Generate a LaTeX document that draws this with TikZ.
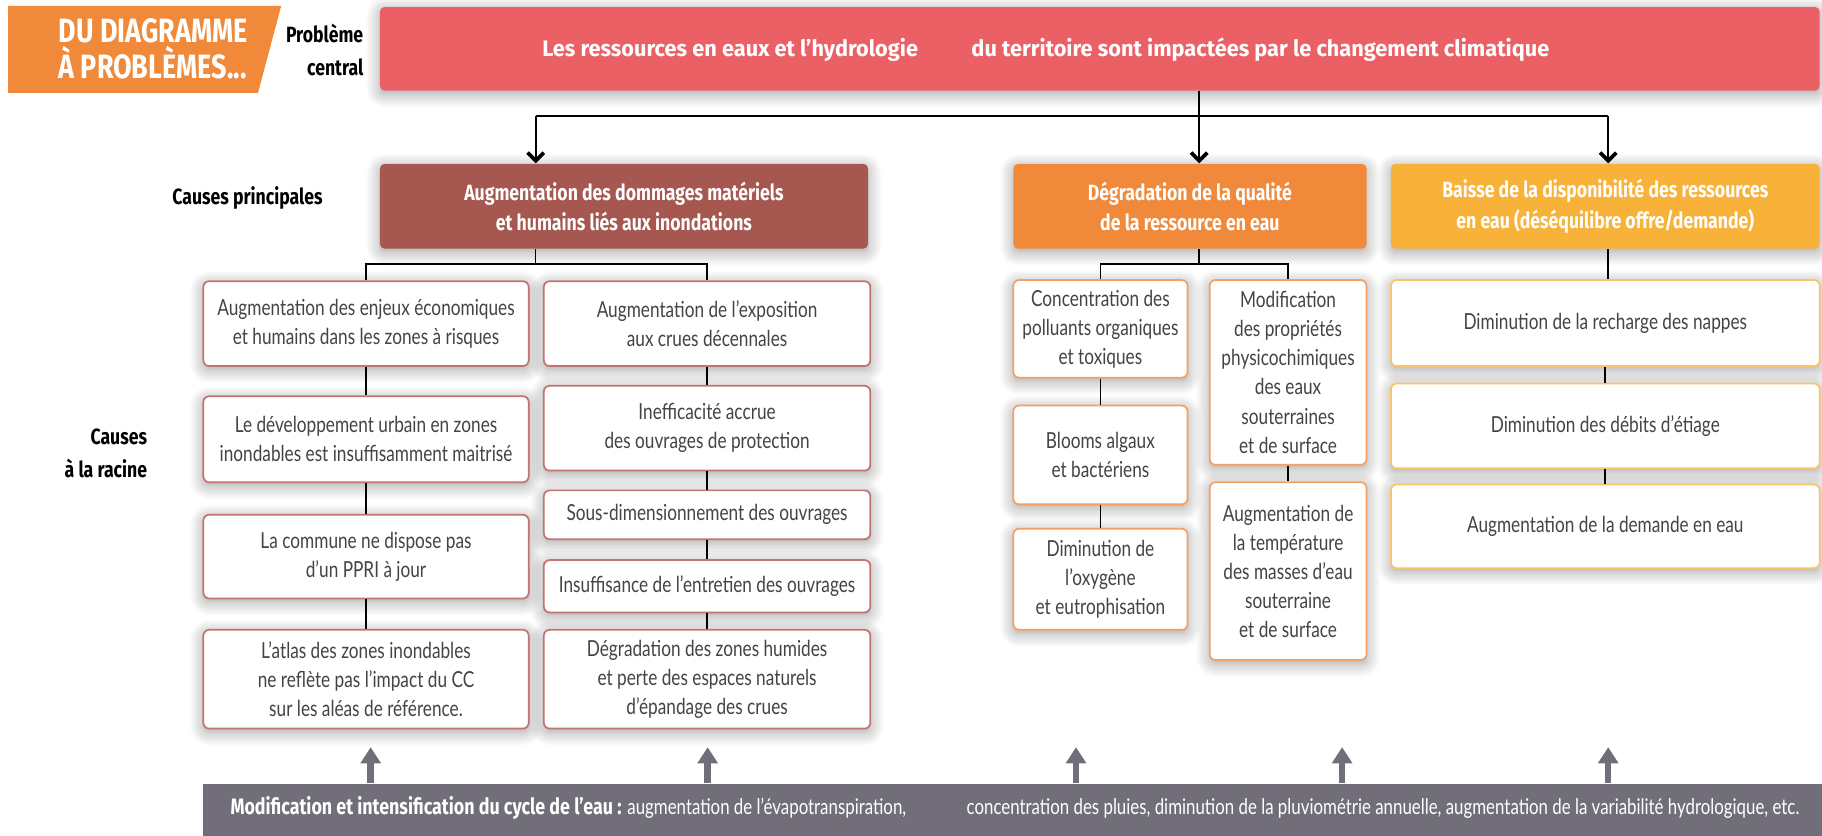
\documentclass[tikz,border=0pt]{standalone}
\usepackage{fontspec}
\setmainfont[FakeStretch=0.78]{Lato}
\newfontfamily\hfont[FakeStretch=0.8]{Fira Sans}
\newfontfamily\bnfont[FakeStretch=0.8]{Fira Sans}
\newfontfamily\tfont[FakeStretch=0.97]{Fira Sans}
\usetikzlibrary{arrows.meta,shadows.blur}
\definecolor{cred}{HTML}{EA6065}
\definecolor{cbrown}{HTML}{A6574F}
\definecolor{corange}{HTML}{F08A3A}
\definecolor{cyellow}{HTML}{F8B23A}
\definecolor{cgray}{HTML}{716E79}
\definecolor{ctext}{HTML}{444444}
\definecolor{bbrown}{HTML}{C27470}
\definecolor{borange}{HTML}{F3A066}
\definecolor{byellow}{HTML}{F8C66A}
\tikzset{
  wh/.style 2 args={minimum width=#1*0.5pt, minimum height=#2*0.5pt},
  shad/.style={blur shadow={shadow xshift=0pt, shadow yshift=-1.5pt, shadow blur radius=6pt, shadow blur steps=10, shadow opacity=38}},
  head/.style={rounded corners=2pt, text=white, inner sep=0pt, align=center,
    font=\hfont\bfseries\fontsize{9.5}{13}\selectfont, shad},
  sub/.style={draw, line width=0.75pt, rounded corners=2.5pt, fill=white, text=ctext,
    inner sep=0pt, align=center, font=\fontsize{9.5}{12.5}\selectfont, shad},
  sbrown/.style={sub, draw=bbrown},
  sorange/.style={sub, draw=borange},
  syellow/.style={sub, draw=byellow},
  lbl/.style={font=\hfont\bfseries\fontsize{9.5}{14}\selectfont, inner sep=0pt},
  tree/.style={line width=0.7pt, black},
  conn/.style={line width=0.9pt, black, -{Straight Barb[length=3.5pt,width=7pt,line width=1.6pt]}},
  uparr/.style={cgray, line width=2.8pt, -{Triangle[length=7pt,width=8.5pt]}},
}
\begin{document}
\begin{tikzpicture}[x=0.5pt,y=-0.5pt]
\useasboundingbox (0,0) rectangle (1568,719);

% banner
\fill[corange] (7,5) -- (242,5) -- (222,80) -- (7,80) -- cycle;
\node[anchor=west, text=white, align=left, inner sep=0pt,
  font=\bnfont\bfseries\fontsize{14.5}{12.5}\selectfont] (banner) at (50,42) {DU DIAGRAMME\\À PROBLÈMES...};
\node[lbl, anchor=east, align=right] (pc) at (313,43) {Problème\\central};

% top problem
\node[head, fill=cred, wh={1239}{72}] (top) at (946.5,42) {};
\node[text=white, inner sep=0pt, font=\tfont\bfseries\fontsize{9.65}{13}\selectfont] (ttl) at (900,43)
  {Les ressources en eaux et l’hydrologie\hspace{23pt}du territoire sont impactées par le changement climatique};

% main causes
\node[head, fill=cbrown, wh={420}{73}] (mb) at (537,177.5) {Augmentation des dommages matériels\\et humains liés aux inondations};
\node[head, fill=corange, wh={304}{73}] (mo) at (1024,177.5) {Dégradation de la qualité\\de la ressource en eau};
\node[head, fill=cyellow, wh={369}{73}] (my) at (1381.5,177.5) {Baisse de la disponibilité des ressources\\en eau (déséquilibre offre/demande)};

\node[lbl] (cp) at (213,170) {Causes principales};
\node[lbl, anchor=east, align=right] (cr) at (127,390) {Causes\\à la racine};

% connectors from top
\coordinate (bx) at (461,100);
\coordinate (ox) at (1032,100);
\coordinate (yx) at (1384,100);
\draw[tree, line width=0.9pt] (top.south -| ox) -- (ox);
\draw[tree, line width=0.9pt] (bx) -- (yx);
\draw[conn] (bx) -- (mb.north -| bx);
\draw[conn] (ox) -- (mo.north -| ox);
\draw[conn] (yx) -- (my.north -| yx);

% brown sub boxes
\node[sbrown, wh={280}{73}] (L1) at (315,278.5) {Augmentation des enjeux économiques\\et humains dans les zones à risques};
\node[sbrown, wh={280}{74}] (L2) at (315,378) {Le développement urbain en zones\\inondables est insuffisamment maitrisé};
\node[sbrown, wh={280}{72}] (L3) at (315,479) {La commune ne dispose pas\\d’un PPRI à jour};
\node[sbrown, wh={280}{85}] (L4) at (315,584.5) {L’atlas des zones inondables\\ne reflète pas l’impact du CC\\sur les aléas de référence.};
\node[sbrown, wh={281}{73}] (R1) at (608.5,278.5) {Augmentation de l’exposition\\aux crues décennales};
\node[sbrown, wh={281}{73}] (R2) at (608.5,368.5) {Inefficacité accrue\\des ouvrages de protection};
\node[sbrown, wh={281}{42}] (R3) at (608.5,443) {Sous-dimensionnement des ouvrages};
\node[sbrown, wh={281}{45}] (R4) at (608.5,504.5) {Insuffisance de l’entretien des ouvrages};
\node[sbrown, wh={281}{85}] (R5) at (608.5,584.5) {Dégradation des zones humides\\et perte des espaces naturels\\d’épandage des crues};

\coordinate (bj) at (461,227);
\draw[tree] (mb.south -| bj) -- (bj);
\draw[tree] (L1.north) |- (bj) -| (R1.north);
\draw[tree] (L1) -- (L2); \draw[tree] (L2) -- (L3); \draw[tree] (L3) -- (L4);
\draw[tree] (R1) -- (R2); \draw[tree] (R2) -- (R3); \draw[tree] (R3) -- (R4); \draw[tree] (R4) -- (R5);

% orange sub boxes
\node[sorange, wh={150}{84}] (OL1) at (947,283) {Concentration des\\polluants organiques\\et toxiques};
\node[sorange, wh={150}{85}] (OL2) at (947,391.5) {Blooms algaux\\et bactériens};
\node[sorange, wh={150}{87}] (OL3) at (947,498.5) {Diminution de\\l’oxygène\\et eutrophisation};
\node[sorange, wh={135}{159}] (OR1) at (1108.5,320.5) {Modification\\des propriétés\\physicochimiques\\des eaux\\souterraines\\et de surface};
\node[sorange, wh={135}{153}] (OR2) at (1108.5,491.5) {Augmentation de\\la température\\des masses d’eau\\souterraine\\et de surface};

\coordinate (oj) at (1032,227);
\draw[tree] (mo.south -| oj) -- (oj);
\draw[tree] (OL1.north) |- (oj) -| (OR1.north);
\draw[tree] (OL1) -- (OL2); \draw[tree] (OL2) -- (OL3);
\draw[tree] (OR1) -- (OR2);

% yellow sub boxes
\node[syellow, wh={369}{74}] (Y1) at (1381.5,278) {Diminution de la recharge des nappes};
\node[syellow, wh={369}{73}] (Y2) at (1381.5,366.5) {Diminution des débits d’étiage};
\node[syellow, wh={369}{72}] (Y3) at (1381.5,453) {Augmentation de la demande en eau};
\draw[tree] (my.south -| yx) -- (Y1.north -| yx);
\draw[tree] (Y1) -- (Y2); \draw[tree] (Y2) -- (Y3);

% bottom bar
\node[fill=cgray, anchor=north west, inner sep=0pt, wh={1394}{46}] (bar) at (174,674) {};
\node[text=white, inner sep=0pt, anchor=west, font=\fontsize{9.3}{13}\selectfont] (bt) at (198,695)
  {{\hfont\bfseries\fontsize{9.6}{13}\selectfont Modification et intensification du cycle de l’eau :} augmentation de l’évapotranspiration,\hspace{26pt}concentration des pluies, diminution de la pluviométrie annuelle, augmentation de la variabilité hydrologique, etc.};

\foreach \i/\x in {1/319,2/609,3/926,4/1155,5/1384}{
  \coordinate (a\i) at (\x,643);
  \draw[uparr] (a\i |- bar.north) -- (a\i);
}
\end{tikzpicture}
\end{document}
